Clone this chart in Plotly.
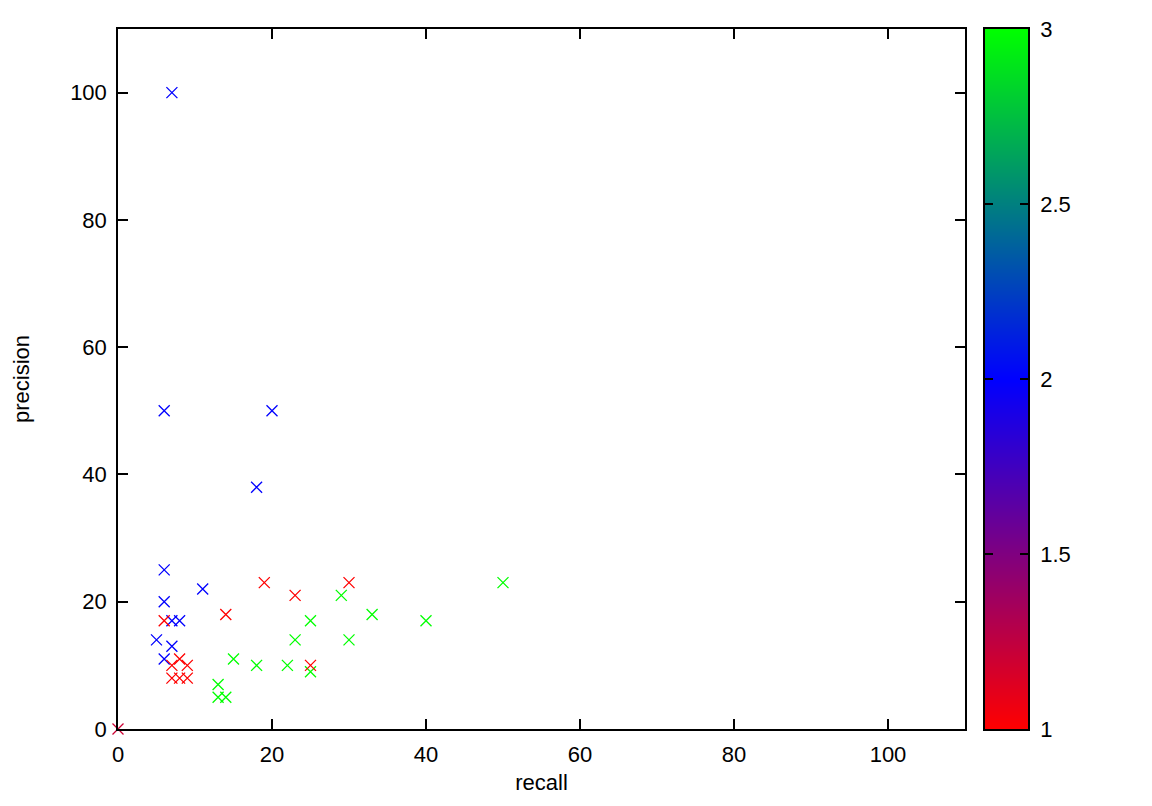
import plotly.graph_objects as go

# Data
recall = [
    # class 3 (green)
    29, 25, 23, 30, 15, 18, 22, 25, 13, 13, 14, 50, 33, 40,
    # class 2 (blue)
    6, 11, 6, 7, 8, 5, 7, 6, 7, 6, 20, 18,
    # class 1 (red)
    19, 23, 30, 14, 6, 8, 7, 9, 7, 8, 9, 25, 0,
]
precision = [
    21, 17, 14, 14, 11, 10, 10, 9, 7, 5, 5, 23, 18, 17,
    25, 22, 20, 17, 17, 14, 13, 11, 100, 50, 50, 38,
    23, 21, 23, 18, 17, 11, 10, 10, 8, 8, 8, 10, 0,
]
label = [
    3, 3, 3, 3, 3, 3, 3, 3, 3, 3, 3, 3, 3, 3,
    2, 2, 2, 2, 2, 2, 2, 2, 2, 2, 2, 2,
    1, 1, 1, 1, 1, 1, 1, 1, 1, 1, 1, 1, 1.2,
]

x_ticks = [0, 20, 40, 60, 80, 100]
y_ticks = [0, 20, 40, 60, 80, 100]
cb_ticks = [1, 1.5, 2, 2.5, 3]
cb_ticktext = ["1", "1.5", "2", "2.5", "3"]
cb_min, cb_max = 1, 3

FONT = "Liberation Sans, Arial, Helvetica, sans-serif"
FS = 22
SCALE = [[0, "rgb(255,0,0)"], [0.5, "rgb(0,0,255)"], [1, "rgb(0,255,0)"]]

# page has an 8px body margin; figure is shrunk accordingly
W, H = 1144, 798
L, R, T, B = 110, 124, 21, 77
area_w = W - L - R          # spans main plot + colour bar
main_dom = [0, 847 / area_w]
cb_dom = [(985 - 118) / area_w, 1]

fig = go.Figure()
fig.add_trace(go.Scatter(
    x=recall, y=precision, mode="markers",
    marker=dict(
        symbol="x-thin", size=11,
        color=label, colorscale=SCALE, cmin=cb_min, cmax=cb_max,
        line=dict(width=1.3, color=label, colorscale=SCALE, cmin=cb_min, cmax=cb_max),
    ),
    cliponaxis=False,
    showlegend=False,
))

# colour bar drawn as a smoothly interpolated strip on its own axes
fig.add_trace(go.Heatmap(
    z=[[cb_min, cb_min], [cb_max, cb_max]], x=[0, 1], y=[cb_min, cb_max],
    colorscale=SCALE, zmin=cb_min, zmax=cb_max, zsmooth="best",
    showscale=False, hoverinfo="skip",
    xaxis="x2", yaxis="y2",
))

axis_common = dict(
    showgrid=False, zeroline=False, showline=True, linecolor="black",
    linewidth=1.5, mirror="ticks", ticks="inside", ticklen=10, tickwidth=1.5,
    tickcolor="black", tickfont=dict(family=FONT, size=FS, color="black"),
    ticklabelstandoff=5,
)

fig.update_layout(
    width=W, height=H,
    margin=dict(l=L, r=R, t=T, b=B),
    paper_bgcolor="white", plot_bgcolor="white",
    font=dict(family=FONT, size=FS, color="black"),
    xaxis=dict(range=[0, 110], tickvals=x_ticks, domain=main_dom,
               title=dict(text="recall", font=dict(family=FONT, size=FS), standoff=8),
               **axis_common),
    yaxis=dict(range=[0, 110], tickvals=y_ticks,
               title=dict(text="precision", font=dict(family=FONT, size=FS), standoff=34),
               **axis_common),
    xaxis2=dict(domain=cb_dom, range=[0, 1], anchor="y2", automargin=False,
                showticklabels=False, ticks="", showgrid=False, zeroline=False,
                showline=True, linecolor="black", linewidth=1.5, mirror=True),
    yaxis2=dict(domain=[0, 1], range=[cb_min, cb_max], anchor="x2", side="right",
                automargin=False,
                tickvals=cb_ticks, ticktext=cb_ticktext,
                showgrid=False, zeroline=False, showline=True, linecolor="black",
                linewidth=1.5, mirror="ticks", ticks="inside", ticklen=8, tickwidth=1.5,
                tickcolor="black", tickfont=dict(family=FONT, size=FS, color="black"),
                ticklabelstandoff=6),
)

fig.write_html("out.html")
